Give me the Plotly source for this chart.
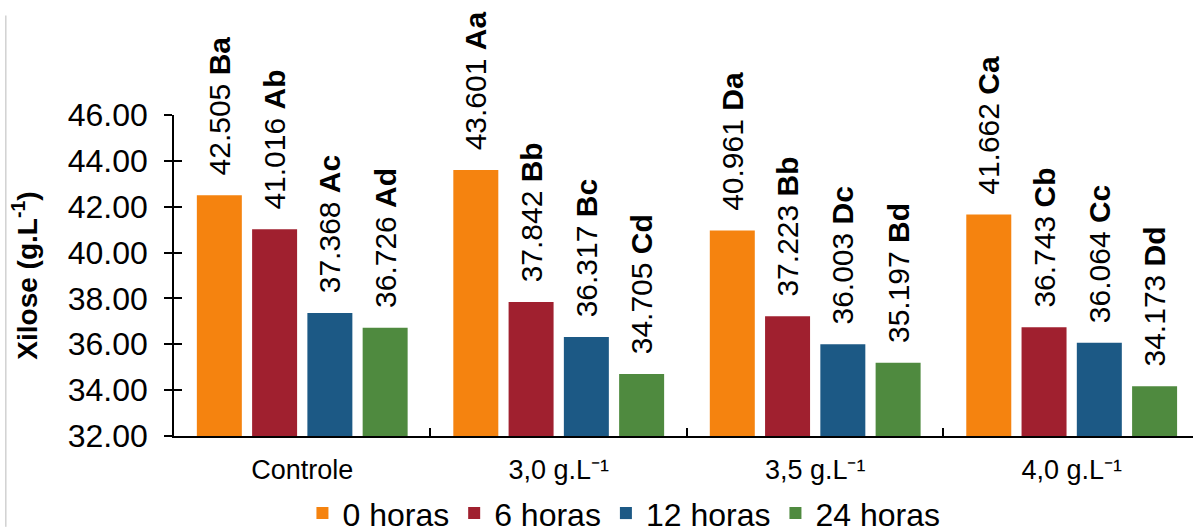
import plotly.graph_objects as go

categories = ["Controle", "3,0 g.L\u207b\u00b9", "3,5 g.L\u207b\u00b9", "4,0 g.L\u207b\u00b9"]
series_names = ["0 horas", "6 horas", "12 horas", "24 horas"]
v0 = [42.505, 43.601, 40.961, 41.662]
v6 = [41.016, 37.842, 37.223, 36.743]
v12 = [37.368, 36.317, 36.003, 36.064]
v24 = [36.726, 34.705, 35.197, 34.173]
l0 = ["Ba", "Aa", "Da", "Ca"]
l6 = ["Ab", "Bb", "Bb", "Cb"]
l12 = ["Ac", "Bc", "Dc", "Cc"]
l24 = ["Ad", "Cd", "Bd", "Dd"]
colors = ["#F5830F", "#A0202F", "#1C5985", "#4F8A3F"]

FONT = "Arial, Liberation Sans, sans-serif"
fig = go.Figure()
for name, vals, lets, col in zip(series_names, [v0, v6, v12, v24], [l0, l6, l12, l24], colors):
    texts = ["\u00a0\u00a0%.3f <b>%s</b>" % (v, l) for v, l in zip(vals, lets)]
    fig.add_trace(go.Bar(
        x=categories, y=vals, name=name,
        marker=dict(color=col, line=dict(width=0)),
        text=texts, textposition="outside", textangle=-90,
        textfont=dict(family=FONT, size=30, color="black"),
        constraintext="none", cliponaxis=False,
    ))

fig.update_layout(
    width=1193, height=527,
    margin=dict(l=174, r=0, t=115, b=91),
    paper_bgcolor="white", plot_bgcolor="white",
    barmode="group", bargap=0.138, bargroupgap=0.186,
    font=dict(family=FONT, color="black"),
    showlegend=True,
    legend=dict(orientation="h", xref="container", yref="container",
                x=0.523, xanchor="center", y=0.026, yanchor="middle",
                font=dict(family=FONT, size=32, color="black"), itemwidth=30,
                bgcolor="rgba(0,0,0,0)"),
    xaxis=dict(range=[-0.5, 3.473], showline=True, linecolor="black", linewidth=1.5,
               ticks="inside", tickson="boundaries", ticklen=8, tickwidth=1.5, tickcolor="black",
               tickfont=dict(family=FONT, size=27, color="black"), ticklabelstandoff=9,
               showgrid=False, zeroline=False),
    yaxis=dict(range=[32, 46], dtick=2, tick0=32, tickformat=".2f",
               showline=True, linecolor="black", linewidth=1.5,
               ticks="outside", ticklen=8, tickwidth=1.5, tickcolor="black",
               tickfont=dict(family=FONT, size=32, color="black"), ticklabelstandoff=10,
               showgrid=False, zeroline=False,
               title=dict(text="<b>Xilose (g.L<sup>-1</sup>)</b>", font=dict(family=FONT, size=28, color="black"), standoff=22)),
    yaxis2=dict(range=[32, 46], dtick=2, tick0=32, overlaying="y", side="left", anchor="x",
                ticks="inside", ticklen=8, tickwidth=1.5, tickcolor="black",
                showticklabels=False, showline=False, showgrid=False, zeroline=False),
)
fig.add_shape(type="line", xref="paper", yref="paper", x0=-0.165, x1=-0.165, y0=-0.283, y1=1.31,
              line=dict(color="#BBBBBB", width=1))
fig.add_trace(go.Scatter(x=[], y=[], yaxis="y2", showlegend=False, hoverinfo="skip"))
fig.write_html("out.html", config={"displayModeBar": False},
               post_script="document.body.style.margin='0';document.body.style.overflow='hidden';")
